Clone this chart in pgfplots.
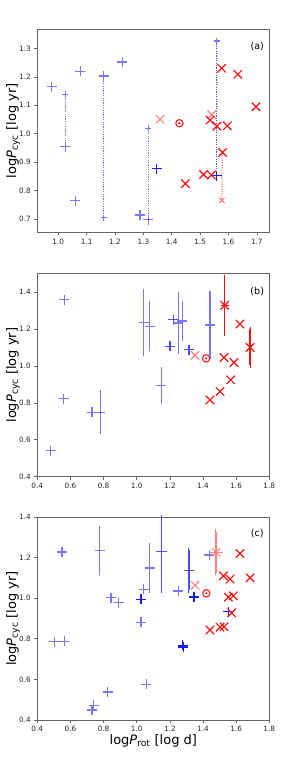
\documentclass[border=0pt]{standalone}
\usepackage{fontspec}
\setmainfont{DejaVu Sans}
\usepackage{pgfplots}
\pgfplotsset{compat=1.18}
\definecolor{blueL}{rgb}{0.47,0.47,1}
\definecolor{blueM}{rgb}{0.3,0.3,1}
\definecolor{blueD}{rgb}{0.1,0.1,1}
\definecolor{redF}{rgb}{1,0.05,0.05}
\definecolor{redL}{rgb}{1,0.5,0.5}
\pgfplotsset{
  panel/.style={
    scale only axis, width=232pt, height=203pt,
    axis line style={black!60, line width=0.8pt},
    tick align=outside, tick pos=left,
    major tick length=3pt,
    tick style={black!60, line width=0.6pt},
    ticklabel style={font=\fontsize{7.3}{8}\selectfont, color=black!85},
    /pgf/number format/fixed, /pgf/number format/fixed zerofill,
    /pgf/number format/precision=1, /pgf/number format/assume math mode=true,
    ylabel={log\textit{P}\textsubscript{cyc} [log yr]},
    ylabel style={at={(axis description cs:-0.105,0.5)}, anchor=center, font=\fontsize{13}{15}\selectfont},
    xlabel style={at={(axis description cs:0.5,-0.102)}, anchor=center, font=\fontsize{13}{15}\selectfont},
    clip=false,
  },
  bp/.style={only marks, mark=+, mark size=5pt, line width=1.2pt, color=#1, mark options={draw=#1}},
  bp/.default=blueL,
  bps/.style={only marks, mark=+, mark size=3pt, line width=1.2pt, color=blueL, mark options={draw=blueL}},
  rx/.style={only marks, mark=x, mark size=5.9pt, line width=1.2pt, color=#1, mark options={draw=#1}},
  rx/.default=redF,
  rxs/.style={only marks, mark=x, mark size=3.8pt, line width=1.2pt, color=redL, mark options={draw=redL}},
  sun/.style={only marks, mark=o, mark size=3.7pt, line width=1pt, color=redF},
  sundot/.style={only marks, mark=*, mark size=0.9pt, color=redF},
  dotl/.style={line width=1.2pt, dash pattern=on 1.2pt off 1.2pt, color=#1, mark=none},
  ebar/.style={error bars/.cd, x dir=both, x explicit, y dir=both, y explicit,
    error bar style={line width=1.2pt, color=#1, solid},
    error mark options={mark size=2.3pt, line width=1.1pt, color=#1}},
}
\begin{document}
\begin{tikzpicture}
% ---------------- panel (a)
\begin{axis}[panel, at={(37.3pt,527.7pt)}, anchor=south west,
  xmin=0.926, xmax=1.744, ymin=0.654, ymax=1.367,
  xtick={1.0,1.1,1.2,1.3,1.4,1.5,1.6,1.7},
  ytick={0.7,0.8,0.9,1.0,1.1,1.2,1.3}]
\addplot[bp] coordinates {(0.977,1.165) (1.025,0.954) (1.078,1.219) (1.060,0.765) (1.16,1.203) (1.226,1.252) (1.288,0.715) (1.318,0.698)};
\addplot[bps] coordinates {(1.025,1.138) (1.16,0.705) (1.318,1.019) (1.559,1.326)};
\addplot[rx=redL] coordinates {(1.359,1.051) (1.541,1.067)};
\addplot[rxs] coordinates {(1.577,0.766)};
\addplot[rx] coordinates {(1.448,0.825) (1.512,0.857) (1.540,0.855) (1.535,1.048) (1.559,1.027) (1.596,1.028) (1.576,1.230) (1.633,1.209) (1.697,1.095) (1.579,0.934)};
\addplot[sun] coordinates {(1.427,1.037)};
\addplot[sundot] coordinates {(1.427,1.037)};
\addplot[dotl=blueL] coordinates {(1.025,1.138) (1.025,0.954)};
\addplot[dotl=blueL] coordinates {(1.16,1.203) (1.16,0.705)};
\addplot[dotl=blueL] coordinates {(1.318,1.019) (1.318,0.698)};
\addplot[dotl=blueM] coordinates {(1.559,1.326) (1.559,0.853)};
\addplot[dotl=redL] coordinates {(1.578,0.934) (1.577,0.766)};
\addplot[bp=blueD] coordinates {(1.347,0.877) (1.559,0.853)};
\node[font=\fontsize{9.6}{11}\selectfont] at (rel axis cs:0.948,0.913) {(a)};
\end{axis}
% ---------------- panel (b)
\begin{axis}[panel, at={(37.3pt,283.3pt)}, anchor=south west,
  xmin=0.4, xmax=1.8, ymin=0.4, ymax=1.5,
  xtick={0.4,0.6,0.8,1.0,1.2,1.4,1.6,1.8},
  ytick={0.4,0.6,0.8,1.0,1.2,1.4}]
\addplot[bp] coordinates {(0.480,0.541) (0.563,1.359) (0.559,0.823) (0.730,0.750)};
\addplot[bp=blueM] coordinates {(1.221,1.251) (1.201,1.107) (1.316,1.089)};
\addplot[rx] coordinates {(1.623,1.227) (1.527,1.046) (1.587,1.019) (1.567,0.925) (1.503,0.862) (1.442,0.816)};
\addplot[rx=redL] coordinates {(1.352,1.058)};
\addplot[sun] coordinates {(1.419,1.041)};
\addplot[sundot] coordinates {(1.419,1.041)};
\addplot[bp, ebar=blueL] table[x=x, y=y, x error=ex, y error=ey] {
x y ex ey
0.780 0.749 0 0.106
1.042 1.236 0.015 0.170
1.078 1.215 0 0.124
1.148 0.894 0 0.087
1.251 1.233 0 0.153
1.275 1.244 0 0.098
1.442 1.222 0 0.173
};
\addplot[rx, ebar=redF] table[x=x, y=y, x error=ex, y error=ey] {
x y ex ey
1.531 1.329 0.010 0.152
1.684 1.101 0 0.097
};
\node[font=\fontsize{9.6}{11}\selectfont] at (rel axis cs:0.948,0.914) {(b)};
\end{axis}
% ---------------- panel (c)
\begin{axis}[panel, at={(37.3pt,40pt)}, anchor=south west,
  xmin=0.4, xmax=1.8, ymin=0.4, ymax=1.4,
  xtick={0.4,0.6,0.8,1.0,1.2,1.4,1.6,1.8},
  ytick={0.4,0.6,0.8,1.0,1.2,1.4},
  xlabel={log\textit{P}\textsubscript{rot} [log d]}]
\addplot[bp] coordinates {(0.549,1.228) (1.042,1.043) (0.845,1.002) (0.891,0.977) (1.026,0.882) (0.503,0.785) (0.563,0.788) (1.058,0.576) (0.825,0.538) (0.740,0.472) (0.730,0.449) (1.438,1.213) (1.251,1.035)};
\addplot[bp=blueD] coordinates {(1.026,0.994) (1.346,1.006) (1.277,0.767) (1.281,0.760) (1.553,0.934)};
\addplot[rx=redL] coordinates {(1.352,1.064)};
\addplot[rx] coordinates {(1.623,1.220) (1.523,1.110) (1.563,1.094) (1.684,1.100) (1.553,1.005) (1.583,1.012) (1.573,0.928) (1.442,0.843) (1.503,0.857) (1.527,0.859)};
\addplot[sun] coordinates {(1.420,1.024)};
\addplot[sundot] coordinates {(1.420,1.024)};
\addplot[bp, ebar=blueL] table[x=x, y=y, x error=ex, y error=ey] {
x y ex ey
0.777 1.236 0 0.108
1.078 1.149 0 0.110
};
\addplot[bp=blueM, ebar=blueM] table[x=x, y=y, x error=ex, y error plus=eyp, y error minus=eym] {
x y ex eyp eym
1.151 1.231 0.020 0.169 0.192
1.315 1.137 0 0.098 0.098
};
\addplot[rx=redL, ebar=redL] table[x=x, y=y, x error=ex, y error=ey] {
x y ex ey
1.478 1.226 0.027 0.102
};
\node[font=\fontsize{9.6}{11}\selectfont] at (rel axis cs:0.948,0.918) {(c)};
\end{axis}
\pgfresetboundingbox
\path[use as bounding box] (0,0) rectangle (299pt,760pt);
\end{tikzpicture}
\end{document}
